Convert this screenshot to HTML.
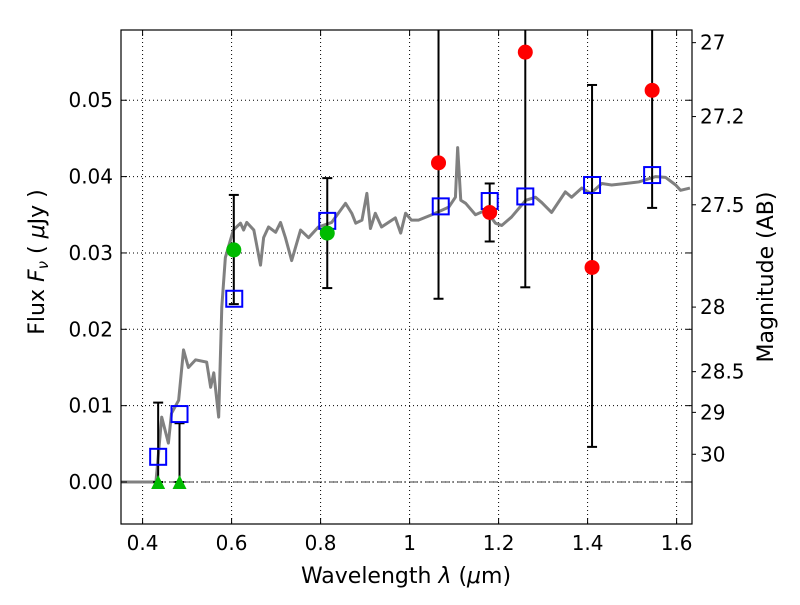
<!DOCTYPE html>
<html><head><meta charset="utf-8"><style>
body{margin:0;background:#fff;width:800px;height:600px;overflow:hidden}
svg text{font-family:"DejaVu Sans","Liberation Sans",sans-serif;fill:#000}
</style></head><body>
<svg id="chart" width="800" height="600" xmlns="http://www.w3.org/2000/svg">
<rect x="0" y="0" width="800" height="600" fill="#fff"/>
<g id="grid"></g>
<g id="plot"></g>
<g id="axes"></g>
</svg>
<script>
const specX=[0.35,0.43,0.443,0.458,0.465,0.481,0.492,0.503,0.519,0.544,0.553,0.56,0.571,0.578,0.586,0.604,0.62,0.627,0.634,0.65,0.665,0.672,0.683,0.699,0.71,0.721,0.735,0.755,0.773,0.795,0.825,0.856,0.87,0.879,0.893,0.904,0.912,0.923,0.937,0.968,0.98,0.991,1.004,1.02,1.05,1.088,1.103,1.108,1.115,1.126,1.148,1.171,1.193,1.207,1.229,1.261,1.283,1.297,1.319,1.35,1.364,1.387,1.407,1.432,1.454,1.485,1.515,1.553,1.575,1.598,1.609,1.63];
const specY=[0,0,0.0085,0.0051,0.009,0.0107,0.0173,0.015,0.016,0.0157,0.0124,0.0143,0.0085,0.0229,0.0294,0.033,0.0339,0.033,0.034,0.033,0.0284,0.032,0.0334,0.0327,0.034,0.032,0.029,0.033,0.032,0.0334,0.034,0.0365,0.0352,0.0339,0.0343,0.0378,0.0332,0.0352,0.0334,0.0346,0.0326,0.0352,0.0343,0.0343,0.035,0.036,0.0373,0.0438,0.0369,0.0365,0.035,0.0356,0.0339,0.0336,0.0347,0.0369,0.0373,0.0366,0.0353,0.038,0.0373,0.0385,0.0378,0.0391,0.0389,0.0391,0.0393,0.04,0.0399,0.0389,0.0382,0.0385];
const modelX=[0.435,0.483,0.606,0.815,1.07,1.18,1.26,1.41,1.545];
const modelY=[0.0033,0.0089,0.024,0.0342,0.0361,0.0368,0.0374,0.0389,0.0402];
const redX=[1.065,1.18,1.26,1.41,1.545];
const redY=[0.0418,0.0353,0.0563,0.0281,0.0513];
const greenX=[0.605,0.815];
const greenY=[0.0304,0.0326];
const limX=[0.435,0.483];
const errX=[0.435,0.483,0.605,0.815,1.065,1.18,1.26,1.41,1.545];
const errLo=[0,0,0.0233,0.0254,0.024,0.0315,0.0255,0.0046,0.0359];
const errHi=[0.0104,0.0077,0.0376,0.0398,0.07,0.0391,0.07,0.052,0.07];
const xTicks=[0.4,0.6,0.8,1.0,1.2,1.4,1.6];
const xTickLabels=["0.4","0.6","0.8","1","1.2","1.4","1.6"];
const yTicks=[0,0.01,0.02,0.03,0.04,0.05];
const yTickLabels=["0.00","0.01","0.02","0.03","0.04","0.05"];
const magTicks=[27,27.2,27.5,28,28.5,29,30];
const magLabels=["27","27.2","27.5","28","28.5","29","30"];

const L=121,R=692,T=30,B=524;
const xmin=0.3515,xmax=1.6346,ymin=-0.0055,ymax=0.0592;
const X=v=>L+(v-xmin)/(xmax-xmin)*(R-L);
const Y=v=>B-(v-ymin)/(ymax-ymin)*(B-T);
const NS="http://www.w3.org/2000/svg";
function mk(p,t,a){const e=document.createElementNS(NS,t);for(const k in a)e.setAttribute(k,a[k]);p.appendChild(e);return e;}
const grid=document.getElementById('grid'),plot=document.getElementById('plot'),axes=document.getElementById('axes');
mk(plot,'clipPath',{id:'clip'});
mk(document.getElementById('clip'),'rect',{x:L,y:T,width:R-L,height:B-T});
plot.setAttribute('clip-path','url(#clip)');

xTicks.forEach((v,i)=>{
 const g=mk(grid,'line',{x1:X(v),x2:X(v),y1:T,y2:B,stroke:'#000','stroke-width':1,'stroke-dasharray':'1,3'});
 
 
 mk(axes,'line',{x1:X(v),x2:X(v),y1:B,y2:B-6,stroke:'#000'});
 mk(axes,'line',{x1:X(v),x2:X(v),y1:T,y2:T+6,stroke:'#000'});
 const t=mk(axes,'text',{x:X(v),y:B+26,'font-size':20,'text-anchor':'middle'});t.textContent=xTickLabels[i];
 
 
});
yTicks.forEach((v,i)=>{
 const g=mk(grid,'line',{x1:L,x2:R,y1:Y(v),y2:Y(v),stroke:'#000','stroke-width':1,'stroke-dasharray':'1,3'});
 
 
 mk(axes,'line',{x1:L,x2:L+6,y1:Y(v),y2:Y(v),stroke:'#000'});
 mk(axes,'line',{x1:R,x2:R-6,y1:Y(v),y2:Y(v),stroke:'#000'});
 const t=mk(axes,'text',{x:L-8,y:Y(v)+7,'font-size':20,'text-anchor':'end'});t.textContent=yTickLabels[i];
 
 
});
magTicks.forEach((m,i)=>{
 const f=Math.pow(10,(23.9-m)/2.5);
 mk(axes,'line',{x1:R,x2:R+4,y1:Y(f),y2:Y(f),stroke:'#000'});
 const t=mk(axes,'text',{x:R+8,y:Y(f)+7,'font-size':20});t.textContent=magLabels[i];
 
 
});
const z=mk(plot,'line',{x1:L,x2:R,y1:Y(0),y2:Y(0),stroke:'#000','stroke-width':0.8,'stroke-dasharray':'8,3,2,3'});


const sp=mk(plot,'polyline',{points:specX.map((v,i)=>X(v)+','+Y(specY[i])).join(' '),fill:'none',stroke:'#808080','stroke-width':3,'stroke-linejoin':'round'});


errX.forEach((v,i)=>{
 const x=X(v);
 const l=mk(plot,'line',{x1:x,x2:x,y1:Y(errLo[i]),y2:Y(errHi[i]),stroke:'#000','stroke-width':2});
 
 
 [errLo[i],errHi[i]].forEach(e=>{if(e<ymax)mk(plot,'line',{x1:x-5,x2:x+5,y1:Y(e),y2:Y(e),stroke:'#000','stroke-width':2});});
});
modelX.forEach((v,i)=>{
 const r=mk(plot,'rect',{x:X(v)-8,y:Y(modelY[i])-8,width:16,height:16,fill:'none',stroke:'#0000ff','stroke-width':2});
 
 
});
redX.forEach((v,i)=>{
 const c=mk(plot,'circle',{cx:X(v),cy:Y(redY[i]),r:7.5,fill:'#ff0000'});
 
 
});
greenX.forEach((v,i)=>{
 const c=mk(plot,'circle',{cx:X(v),cy:Y(greenY[i]),r:7.5,fill:'#00bb00'});
 
 
});
limX.forEach(v=>{
 const x=X(v),y=Y(0);
 const p=mk(plot,'polygon',{points:`${x},${y-7} ${x-7},${y+7} ${x+7},${y+7}`,fill:'#00bb00'});
 
 
});
const fr=mk(axes,'rect',{x:L,y:T,width:R-L,height:B-T,fill:'none',stroke:'#000','stroke-width':1.2});


let t=mk(axes,'text',{x:406,y:583,'font-size':22,'text-anchor':'middle'});
t.innerHTML='Wavelength  <tspan font-style="italic">λ</tspan> (<tspan font-style="italic">μ</tspan>m)';


t=mk(axes,'text',{x:44,y:262,'font-size':22,'text-anchor':'middle',transform:'rotate(-90 44 262)'});
t.innerHTML='Flux  <tspan font-style="italic">F</tspan><tspan font-style="italic" font-size="15" dy="4">ν</tspan><tspan dy="-4">  (  </tspan><tspan font-style="italic">μ</tspan>Jy )';


t=mk(axes,'text',{x:773,y:277,'font-size':22,'text-anchor':'middle',transform:'rotate(-90 773 277)'});
t.textContent='Magnitude (AB)';


</script>
</body></html>
